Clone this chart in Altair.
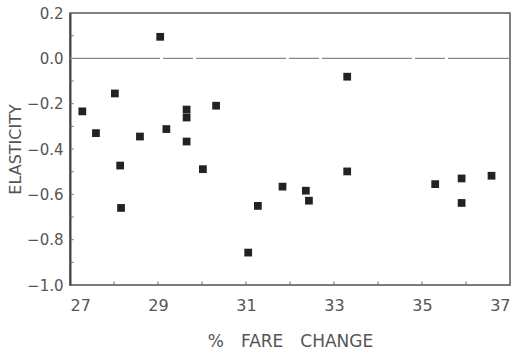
import altair as alt
import pandas as pd

fare_change = [27.28, 27.59, 28.02, 28.14, 28.16, 28.59, 29.05, 29.19, 29.65, 29.65,
               29.65, 30.02, 30.32, 31.05, 31.27, 31.83, 32.36, 32.43, 33.30, 33.30,
               35.30, 35.90, 35.90, 36.58]
elasticity = [-0.234, -0.330, -0.155, -0.473, -0.660, -0.345, 0.095, -0.312, -0.226, -0.261,
              -0.367, -0.489, -0.209, -0.857, -0.651, -0.566, -0.584, -0.628, -0.081, -0.499,
              -0.555, -0.530, -0.638, -0.518]

x_labels = [27, 29, 31, 33, 35, 37]
y_labels = [-1.0, -0.8, -0.6, -0.4, -0.2, 0.0, 0.2]
x_minor = [28, 29, 30, 31, 32, 33, 34, 35, 36]
y_minor = [-0.9, -0.8, -0.7, -0.6, -0.5, -0.4, -0.3, -0.2, -0.1, 0.1]

df = pd.DataFrame({"x": fare_change, "y": elasticity})
dfx = pd.DataFrame({"x": x_minor, "y0": [-1.0] * len(x_minor), "y1": [-0.984] * len(x_minor)})
dfy = pd.DataFrame({"y": y_minor, "x0": [27.0] * len(y_minor), "x1": [27.08] * len(y_minor)})
dfz = pd.DataFrame({"x0": [27.0], "x1": [37.0], "y": [0.0]})

FONT = "DejaVu Sans"
TXT = "#555555"

xs = alt.Scale(domain=[27, 37], nice=False, zero=False)
ys = alt.Scale(domain=[-1.0, 0.2], nice=False, zero=False)

x_axis = alt.Axis(values=x_labels, format="d", tickSize=0, labelPadding=12,
                  labelFontSize=16, labelFont=FONT, labelColor=TXT, grid=False,
                  title="%\u2003FARE\u2003CHANGE", titleFont=FONT, titleFontSize=17,
                  titleFontWeight="normal", titleColor=TXT, titlePadding=20,
                  domainColor="#777777", domainWidth=1.2)
y_axis = alt.Axis(values=y_labels, format=".1f", tickSize=0, labelPadding=7,
                  labelFontSize=15, labelFont=FONT, labelColor=TXT, grid=False,
                  title="ELASTICITY", titleFont=FONT, titleFontSize=16,
                  titleFontWeight="normal", titleColor=TXT, titlePadding=3,
                  domainColor="#444444", domainWidth=2)

points = alt.Chart(df).mark_square(size=60, color="#222222", opacity=1).encode(
    x=alt.X("x:Q", scale=xs, axis=x_axis),
    y=alt.Y("y:Q", scale=ys, axis=y_axis),
)

zero = alt.Chart(dfz).mark_rule(color="#888888", strokeWidth=1.2, strokeDash=[90, 3, 30, 3]).encode(
    x=alt.X("x0:Q", scale=xs), x2="x1:Q", y=alt.Y("y:Q", scale=ys)
)
xt = alt.Chart(dfx).mark_rule(color="#666666", strokeWidth=1).encode(
    x=alt.X("x:Q", scale=xs), y=alt.Y("y0:Q", scale=ys), y2="y1:Q"
)
yt = alt.Chart(dfy).mark_rule(color="#666666", strokeWidth=1).encode(
    y=alt.Y("y:Q", scale=ys), x=alt.X("x0:Q", scale=xs), x2="x1:Q"
)

chart = alt.layer(zero, xt, yt, points).properties(
    width=440, height=272,
    autosize=alt.AutoSizeParams(type="none"),
    padding={"left": 70, "top": 13, "right": 14, "bottom": 68},
    background="white",
).configure_view(stroke="#555555", strokeWidth=1.5)

chart.save("out.html", embed_options={"renderer": "svg", "actions": False})
